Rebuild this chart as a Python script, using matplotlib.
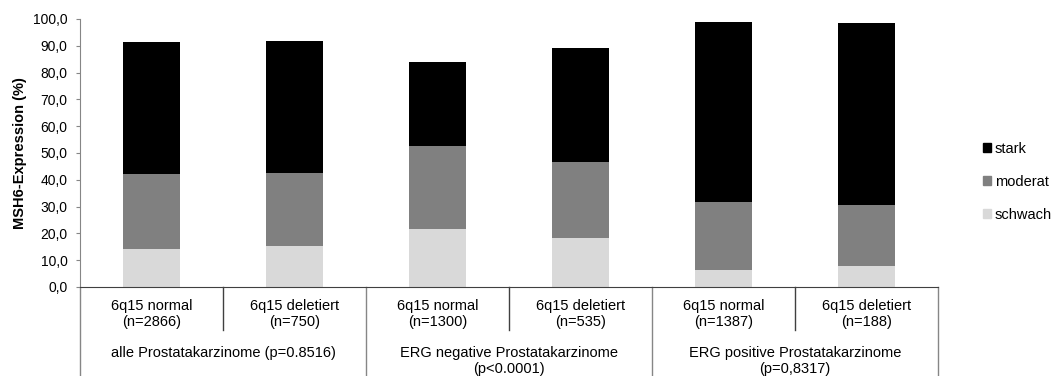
import matplotlib.pyplot as plt
from matplotlib.patches import Patch
import numpy as np

plt.rcParams['font.family'] = ['Liberation Sans', 'DejaVu Sans']

# data
sub_labels = ['6q15 normal\n(n=2866)', '6q15 deletiert\n(n=750)',
              '6q15 normal\n(n=1300)', '6q15 deletiert\n(n=535)',
              '6q15 normal\n(n=1387)', '6q15 deletiert\n(n=188)']
group_labels = ['alle Prostatakarzinome (p=0.8516)',
                'ERG negative Prostatakarzinome\n(p<0.0001)',
                'ERG positive Prostatakarzinome\n(p=0,8317)']
schwach = [14.1, 15.3, 21.8, 18.1, 6.4, 7.7]
moderat = [28.0, 27.4, 30.9, 28.7, 25.2, 22.8]
stark = [49.2, 49.0, 31.1, 42.4, 67.2, 68.1]

colors = {'schwach': '#d9d9d9', 'moderat': '#808080', 'stark': '#000000'}
axis_col = '#868686'
fs = 10.5

fig = plt.figure(figsize=(10.54, 3.76), dpi=100)
ax = fig.add_axes([80 / 1054, 89 / 376, 858 / 1054, 268 / 376])

x = np.arange(len(sub_labels))
w = 0.405
schwach = np.array(schwach)
moderat = np.array(moderat)
stark = np.array(stark)
ax.bar(x, schwach, w, color=colors['schwach'])
ax.bar(x, moderat, w, bottom=schwach, color=colors['moderat'])
ax.bar(x, stark, w, bottom=schwach + moderat, color=colors['stark'])

ax.set_xlim(-0.5, len(sub_labels) - 0.5)
ax.set_ylim(0, 100)
ax.set_yticks(np.arange(0, 101, 10))
ax.set_yticklabels([f'{v:.1f}'.replace('.', ',') for v in np.arange(0, 101, 10)],
                   fontsize=10)
ax.tick_params(axis='y', direction='out', length=3, color=axis_col, pad=6)
ax.set_xticks([])
for s in ['top', 'right']:
    ax.spines[s].set_visible(False)
ax.spines['left'].set_color(axis_col)
ax.spines['bottom'].set_color('#404040')
ax.set_ylabel('MSH6-Expression (%)', fontsize=10.5, fontweight='bold', labelpad=4)

# two-level category axis
trans = ax.get_xaxis_transform()
for i in range(len(sub_labels) + 1):
    xb = i - 0.5
    if i % 2 == 0:
        y1 = -89 / 268
        col = axis_col
    else:
        y1 = -43 / 268
        col = '#404040'
    ax.plot([xb, xb], [0, y1], transform=trans, color=col, lw=1, clip_on=False)

for i, lab in enumerate(sub_labels):
    ax.text(i, -12 / 268, lab, transform=trans, ha='center', va='top',
            fontsize=fs, linespacing=1.2)
for g, lab in enumerate(group_labels):
    ax.text(2 * g + 0.5, -59 / 268, lab, transform=trans, ha='center', va='top',
            fontsize=fs, linespacing=1.15)

handles = [Patch(color=colors['stark'], label='stark'),
           Patch(color=colors['moderat'], label='moderat'),
           Patch(color=colors['schwach'], label='schwach')]
fig.legend(handles=handles, loc='center left', bbox_to_anchor=(970 / 1054, 1 - 182 / 376),
           frameon=False, fontsize=fs, handlelength=0.55, handleheight=0.55,
           handletextpad=0.25, labelspacing=1.3)

fig.savefig('out.png', dpi=100)
